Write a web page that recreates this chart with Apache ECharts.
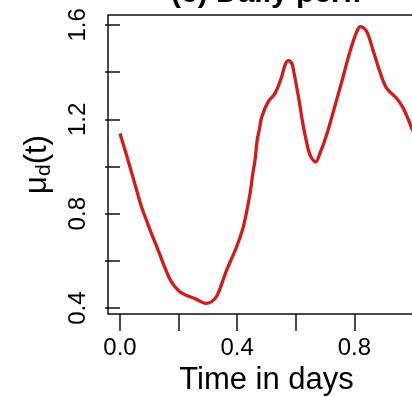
<!DOCTYPE html>
<html>
<head>
<meta charset="utf-8">
<script src="https://cdn.jsdelivr.net/npm/echarts@6/dist/echarts.min.js"></script>
<style>
html,body{margin:0;padding:0;background:#fff;}
#c{width:412px;height:397px;}
</style>
</head>
<body>
<div id="c"></div>
<script>
// Data
var timeDays = [0.0, 0.027, 0.05, 0.073, 0.09, 0.107, 0.13, 0.152, 0.175, 0.204, 0.232, 0.255, 0.272, 0.292, 0.312, 0.332, 0.364, 0.398, 0.421, 0.444, 0.452, 0.461, 0.468, 0.476, 0.484, 0.506, 0.529, 0.552, 0.563, 0.574, 0.586, 0.592, 0.609, 0.626, 0.643, 0.652, 0.668, 0.683, 0.705, 0.728, 0.757, 0.785, 0.808, 0.821, 0.842, 0.865, 0.887, 0.91, 0.944, 0.967, 0.996, 1.0];
var muValues = [1.14, 1.028, 0.929, 0.83, 0.773, 0.717, 0.646, 0.575, 0.512, 0.469, 0.451, 0.441, 0.43, 0.42, 0.427, 0.455, 0.561, 0.66, 0.745, 0.886, 0.96, 1.03, 1.11, 1.16, 1.211, 1.275, 1.31, 1.381, 1.43, 1.449, 1.438, 1.409, 1.296, 1.169, 1.07, 1.04, 1.02, 1.058, 1.134, 1.232, 1.36, 1.487, 1.572, 1.593, 1.572, 1.487, 1.402, 1.332, 1.289, 1.247, 1.162, 1.15];
var xTicks = [0, 0.2, 0.4, 0.6, 0.8, 1.0];
var xTickLabels = [0, 0.4, 0.8];
var yTicks = [0.4, 0.6, 0.8, 1.0, 1.2, 1.4, 1.6];
var yTickLabels = [0.4, 0.8, 1.2, 1.6];
var titleText = '(c) Daily perf.';
var xName = 'Time in days';

var FONT = '"Liberation Sans", Arial, Helvetica, sans-serif';
var chart = echarts.init(document.getElementById('c'), null, {renderer: 'canvas'});
var pts = timeDays.map(function (t, i) { return [t, muValues[i]]; });

chart.setOption({
  animation: false,
  backgroundColor: '#fff',
  graphic: [{
    type: 'text',
    x: 266, y: -6,
    style: {
      text: titleText,
      font: 'bold 30px ' + FONT,
      fill: '#000',
      align: 'center',
      verticalAlign: 'middle'
    }
  }],
  grid: {
    left: 108, top: 15, width: 317, height: 299,
    show: true, borderColor: '#111', borderWidth: 1.5,
    containLabel: false, outerBoundsMode: 'none'
  },
  xAxis: {
    type: 'value', min: -0.041, max: 1.041,
    axisLine: {show: false},
    splitLine: {show: false},
    axisTick: {show: true, inside: false, length: 17, customValues: xTicks, lineStyle: {color: '#111', width: 1.5}},
    axisLabel: {
      customValues: xTickLabels, margin: 22,
      formatter: function (v) { return v.toFixed(1); },
      fontSize: 24, fontFamily: FONT, color: '#000'
    },
    name: xName, nameLocation: 'middle', nameGap: 42,
    nameTextStyle: {fontSize: 31, fontFamily: FONT, color: '#000'}
  },
  yAxis: {
    type: 'value', min: 0.375, max: 1.642,
    axisLine: {show: false},
    splitLine: {show: false},
    axisTick: {show: true, inside: false, length: 15, customValues: yTicks, lineStyle: {color: '#111', width: 1.5}},
    axisLabel: {
      customValues: yTickLabels, margin: 18, rotate: 90,
      formatter: function (v) { return v.toFixed(1); },
      fontSize: 24, fontFamily: FONT, color: '#000'
    },
    name: '{a|\u03bc}{b|d}{a|(t)}', nameLocation: 'middle', nameGap: 53,
    nameTextStyle: {
      fontSize: 31, fontFamily: FONT, color: '#000',
      rich: {
        a: {fontSize: 31, fontFamily: FONT, color: '#000'},
        b: {fontSize: 21, fontFamily: FONT, color: '#000', padding: [14, 0, 0, 0]}
      }
    }
  },
  series: [{
    type: 'line',
    data: pts,
    showSymbol: false,
    smooth: 0.35,
    lineStyle: {color: '#d41a1a', width: 3.3},
    clip: true
  }]
});
</script>
</body>
</html>
